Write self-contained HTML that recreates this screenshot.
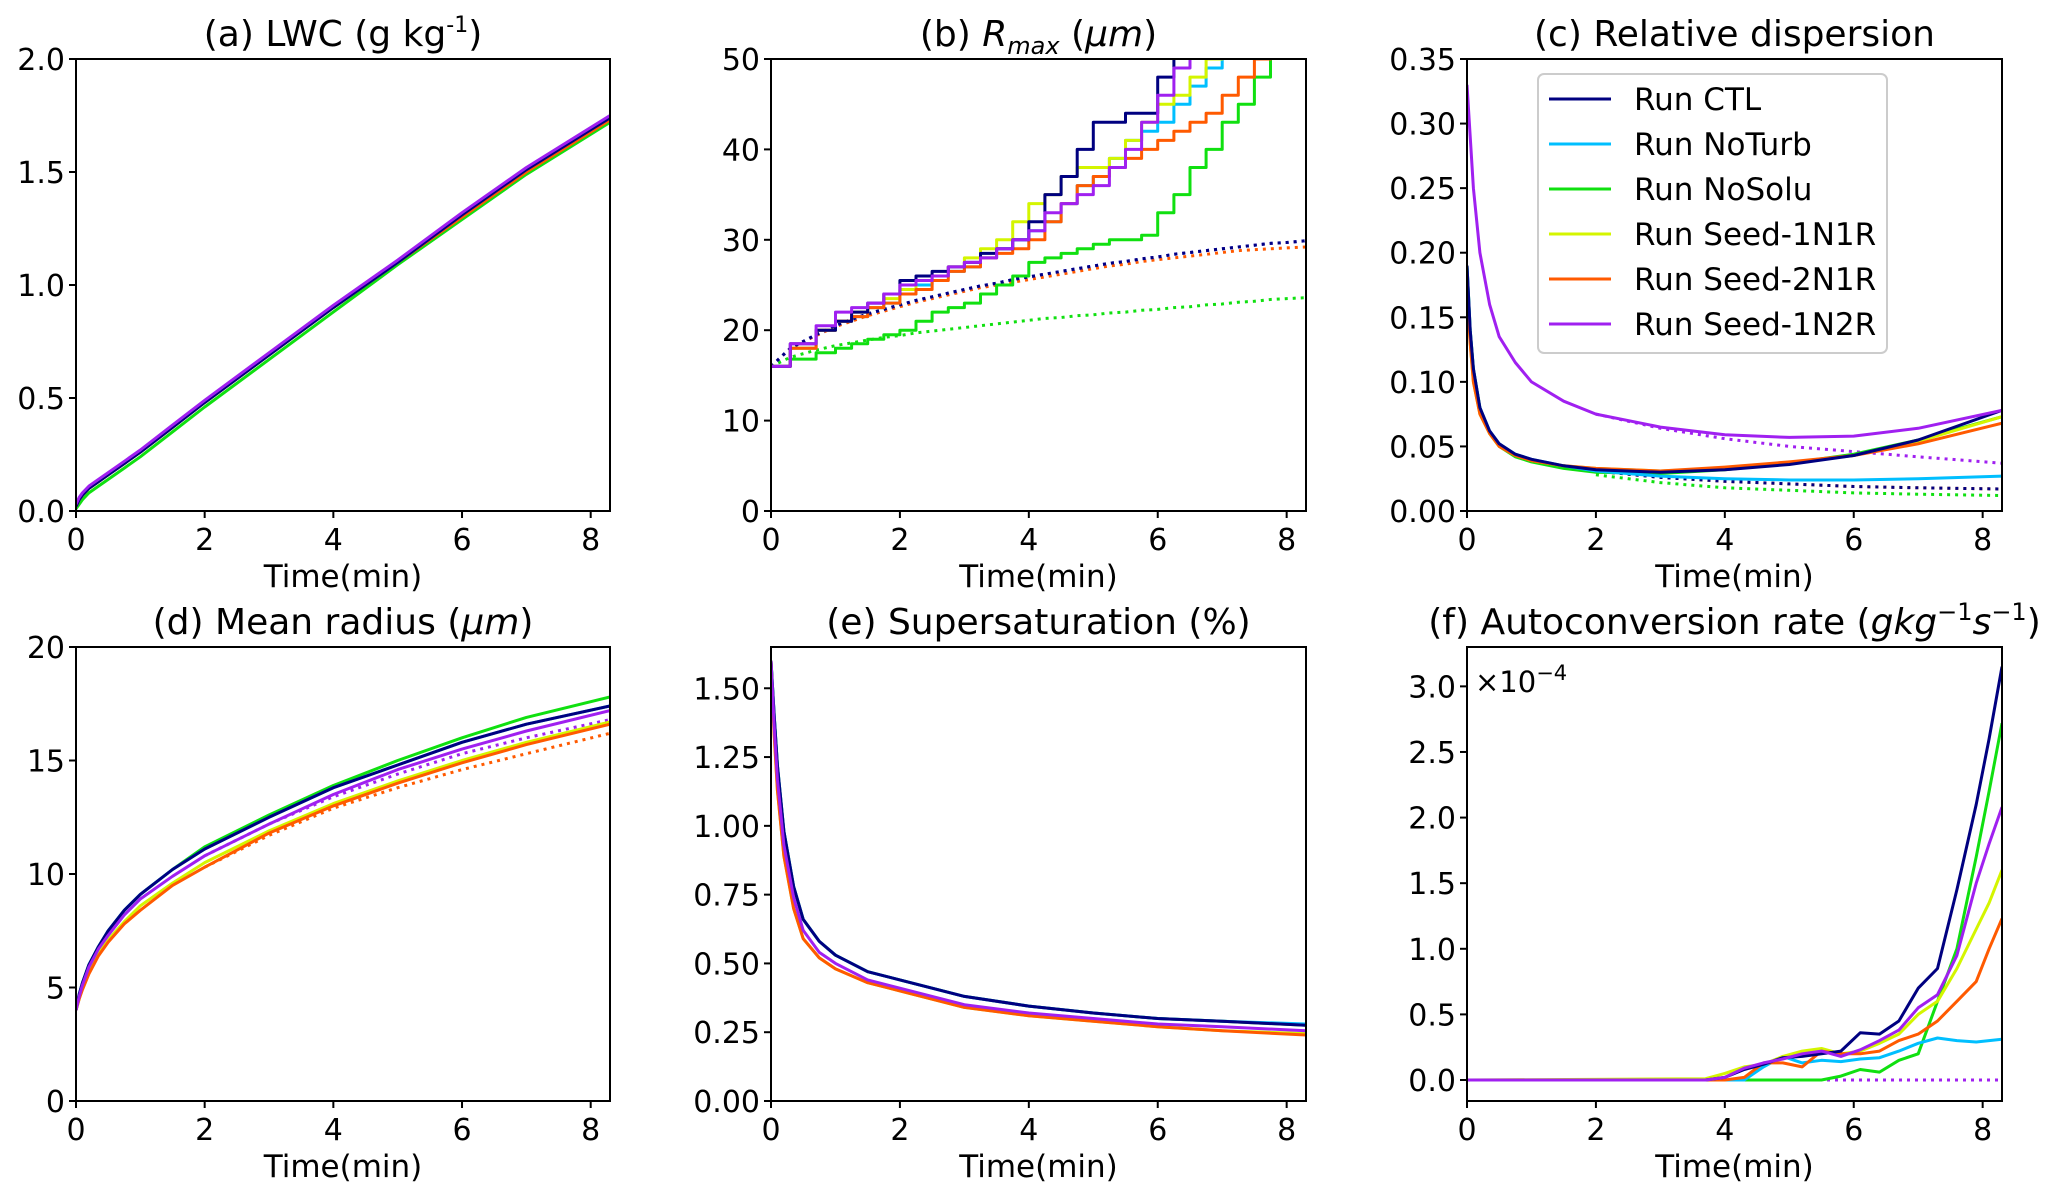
<!DOCTYPE html>
<html><head><meta charset="utf-8"><style>
body{margin:0;background:#fff}
svg{display:block;font-family:"DejaVu Sans","Liberation Sans",sans-serif}
</style></head><body>
<svg id="fig" width="2067" height="1197" viewBox="0 0 2067 1197" xmlns="http://www.w3.org/2000/svg"></svg>
<script>
// ---------- data ----------
const runNames = ["Run CTL","Run NoTurb","Run NoSolu","Run Seed-1N1R","Run Seed-2N1R","Run Seed-1N2R"];
const runColors = ["#000080","#00bfff","#10e010","#d4f500","#ff5a00","#a020f0"];

const TS = [0,0.05,0.1,0.2,0.35,0.5,0.75,1,1.5,2,3,4,5,6,7,8.3];
const TD = [2,3,4,5,6,7,8.3];
const TB = [0,0.3,0.7,1,1.25,1.5,1.75,2,2.25,2.5,2.75,3,3.25,3.5,3.75,4,4.25,4.5,4.75,5,5.25,5.5,5.75,6,6.25,6.5,6.75,7,7.25,7.5,7.75,8,8.3];
const TF = [0,3.7,4,4.3,4.6,4.9,5.2,5.5,5.8,6.1,6.4,6.7,7,7.3,7.6,7.9,8.1,8.3];

// (a) LWC
const lwcCTL    = [0.02,0.05,0.07,0.10,0.13,0.16,0.21,0.26,0.37,0.48,0.69,0.90,1.10,1.31,1.51,1.74];
const lwcNoTurb = [0.02,0.05,0.07,0.10,0.13,0.16,0.21,0.26,0.37,0.48,0.69,0.90,1.10,1.31,1.51,1.74];
const lwcNoSolu = [0.01,0.03,0.05,0.08,0.11,0.14,0.19,0.24,0.35,0.46,0.67,0.88,1.09,1.29,1.49,1.72];
const lwc1N1R   = [0.02,0.05,0.07,0.10,0.13,0.16,0.21,0.26,0.37,0.48,0.69,0.90,1.10,1.31,1.51,1.74];
const lwc2N1R   = [0.02,0.05,0.07,0.10,0.13,0.16,0.21,0.26,0.37,0.48,0.69,0.90,1.10,1.30,1.50,1.73];
const lwc1N2R   = [0.03,0.06,0.08,0.11,0.14,0.17,0.22,0.27,0.38,0.49,0.70,0.91,1.11,1.32,1.52,1.75];

// (b) Rmax
const rmaxCTL    = [16,18.5,20,21,22,23,24,25.5,26,26.5,27,27.5,28.5,29,30,32,35,37,40,43,43,44,44,48,52,57,60,60,60,60,60,60,60];
const rmaxNoTurb = [16,18,20,21,21.5,22.5,23,24,25,26,26.5,27,28,29,30,31,32,34,36,37,39,41,42,43,45,47,49,52,60,60,60,60,60];
const rmaxNoSolu = [16,16.8,17.5,18,18.5,19,19.5,20,21,22,22.5,23,24,25,26,27.5,28,28.5,29,29.5,30,30,30.5,33,35,38,40,43,45,48,52,55,60];
const rmax1N1R   = [16,18,20,21,22,22.5,23.5,24.5,25.5,26,27,28,29,30,32,34,35,37,38,38,39,41,43,45,46,48,50,53,60,60,60,60,60];
const rmax2N1R   = [16,18,20,21,21.5,22.5,23,24,24.5,25.5,26.5,27,28,28.5,29,30,32,34,36,37,38,39,40,41,42,43,44,46,48,50,52,55,60];
const rmax1N2R   = [16,18.5,20.5,22,22.5,23,24,25,25.5,26,27,27.5,28,29,30,31,33,34,35,36,38,40,43,46,49,51,53,55,60,60,60,60,60];
const rmaxDotCTL    = [16,18,19.5,20.5,21.2,21.8,22.3,22.8,23.3,23.7,24.1,24.5,24.9,25.2,25.6,25.9,26.2,26.5,26.8,27.1,27.4,27.6,27.9,28.1,28.4,28.6,28.8,29.0,29.2,29.4,29.6,29.7,29.9];
const rmaxDot2N1R   = [16,18,19.4,20.4,21.0,21.6,22.1,22.6,23.1,23.5,23.9,24.3,24.7,25.0,25.3,25.6,25.9,26.2,26.5,26.8,27.1,27.3,27.6,27.8,28.0,28.2,28.4,28.6,28.8,28.9,29.0,29.1,29.2];
const rmaxDotNoSolu = [16,17,17.8,18.3,18.6,18.9,19.2,19.4,19.7,19.9,20.1,20.3,20.5,20.7,20.9,21.1,21.3,21.4,21.6,21.7,21.9,22.0,22.2,22.3,22.5,22.6,22.8,22.9,23.1,23.2,23.4,23.5,23.6];

// (c) relative dispersion
const dispCTL    = [0.19,0.14,0.11,0.08,0.062,0.052,0.044,0.040,0.035,0.032,0.030,0.032,0.036,0.043,0.055,0.078];
const dispNoTurb = [0.19,0.14,0.11,0.08,0.062,0.052,0.044,0.040,0.035,0.031,0.027,0.025,0.024,0.024,0.025,0.027];
const dispNoSolu = [0.19,0.14,0.11,0.08,0.060,0.050,0.042,0.038,0.033,0.030,0.029,0.032,0.037,0.044,0.055,0.073];
const disp1N1R   = [0.18,0.13,0.10,0.075,0.060,0.050,0.043,0.039,0.035,0.033,0.031,0.033,0.037,0.043,0.054,0.073];
const disp2N1R   = [0.17,0.13,0.10,0.075,0.060,0.050,0.043,0.039,0.035,0.033,0.031,0.034,0.038,0.043,0.052,0.068];
const disp1N2R   = [0.33,0.29,0.25,0.20,0.16,0.135,0.115,0.10,0.085,0.075,0.065,0.059,0.057,0.058,0.064,0.078];
const dispDot1N2R   = [0.075,0.064,0.056,0.050,0.046,0.042,0.037];
const dispDotCTL    = [0.031,0.026,0.023,0.021,0.019,0.018,0.017];
const dispDotNoSolu = [0.028,0.022,0.018,0.016,0.014,0.013,0.012];

// (d) mean radius
const radCTL    = [4.0,4.7,5.2,6.0,6.8,7.5,8.4,9.1,10.2,11.1,12.5,13.8,14.8,15.8,16.6,17.4];
const radNoTurb = [4.0,4.7,5.2,6.0,6.8,7.5,8.4,9.1,10.2,11.1,12.5,13.8,14.8,15.8,16.6,17.4];
const radNoSolu = [4.0,4.7,5.2,6.0,6.8,7.5,8.4,9.1,10.2,11.2,12.6,13.9,15.0,16.0,16.9,17.8];
const rad1N1R   = [4.0,4.5,5.0,5.7,6.5,7.1,7.9,8.6,9.6,10.5,11.9,13.1,14.1,15.0,15.8,16.7];
const rad2N1R   = [4.0,4.5,4.9,5.6,6.4,7.0,7.8,8.4,9.5,10.3,11.8,13.0,14.0,14.9,15.7,16.6];
const rad1N2R   = [4.0,4.6,5.1,5.9,6.7,7.3,8.2,8.9,9.9,10.8,12.2,13.5,14.6,15.5,16.3,17.2];
const radDot1N2R = [10.8,12.2,13.4,14.4,15.3,16.0,16.8];
const radDot2N1R = [10.3,11.7,12.9,13.8,14.6,15.3,16.2];

// (e) supersaturation
const ssCTL    = [1.60,1.40,1.22,0.98,0.78,0.66,0.58,0.53,0.47,0.44,0.38,0.345,0.32,0.30,0.29,0.275];
const ssNoTurb = [1.60,1.40,1.22,0.98,0.78,0.66,0.58,0.53,0.47,0.44,0.38,0.345,0.32,0.30,0.29,0.28];
const ssNoSolu = [1.60,1.40,1.22,0.98,0.78,0.66,0.58,0.53,0.47,0.44,0.38,0.345,0.32,0.30,0.29,0.275];
const ss1N1R   = [1.60,1.33,1.13,0.89,0.70,0.59,0.52,0.48,0.43,0.40,0.34,0.31,0.29,0.27,0.255,0.245];
const ss2N1R   = [1.60,1.33,1.13,0.89,0.70,0.59,0.52,0.48,0.43,0.40,0.34,0.31,0.29,0.27,0.255,0.24];
const ss1N2R   = [1.60,1.36,1.17,0.93,0.74,0.62,0.54,0.50,0.44,0.41,0.35,0.32,0.30,0.28,0.27,0.255];

// (f) autoconversion (x1e-4)
const acCTL    = [0,0,0.02,0.08,0.12,0.17,0.18,0.2,0.22,0.36,0.35,0.45,0.7,0.85,1.45,2.1,2.6,3.15];
const acNoTurb = [0,0,0,0,0.1,0.18,0.13,0.15,0.14,0.16,0.17,0.22,0.28,0.32,0.30,0.29,0.30,0.31];
const acNoSolu = [0,0,0,0,0,0,0,0,0.03,0.08,0.06,0.15,0.2,0.6,1.0,1.7,2.2,2.72];
const ac1N1R   = [0,0.01,0.05,0.1,0.12,0.18,0.22,0.24,0.2,0.22,0.28,0.35,0.5,0.6,0.85,1.15,1.35,1.6];
const ac2N1R   = [0,0,0,0.02,0.13,0.13,0.1,0.22,0.2,0.2,0.22,0.3,0.35,0.45,0.6,0.75,1.0,1.23];
const ac1N2R   = [0,0,0.02,0.09,0.13,0.16,0.2,0.22,0.18,0.23,0.3,0.38,0.55,0.65,0.95,1.5,1.8,2.08];
const acDot    = [0,0,0,0,0,0,0,0,0,0,0,0,0,0,0,0,0,0];

const xTicks = [0,2,4,6,8];
const ticksA = [0,0.5,1.0,1.5,2.0];
const ticksB = [0,10,20,30,40,50];
const ticksC = [0,0.05,0.10,0.15,0.20,0.25,0.30,0.35];
const ticksD = [0,5,10,15,20];
const ticksE = [0,0.25,0.5,0.75,1.0,1.25,1.5];
const ticksF = [0,0.5,1.0,1.5,2.0,2.5,3.0];

// ---------- drawing ----------
const NS = "http://www.w3.org/2000/svg";
const svg = document.getElementById("fig");
function mk(tag, attrs, parent){
  const e = document.createElementNS(NS, tag);
  for (const k in attrs) e.setAttribute(k, attrs[k]);
  (parent||svg).appendChild(e);
  return e;
}
let clipN = 0;
function panel(o){
  const g = mk("g", {});
  
  
  const X = v => o.x0 + (v - 0) / 8.3 * (o.x1 - o.x0);
  const Y = v => o.y1 - (v - o.ymin) / (o.ymax - o.ymin) * (o.y1 - o.y0);
  const id = "clip" + (clipN++);
  const cp = mk("clipPath", {id: id}, g);
  mk("rect", {x:o.x0, y:o.y0, width:o.x1-o.x0, height:o.y1-o.y0}, cp);
  const lines = mk("g", {"clip-path":"url(#"+id+")"}, g);
  o.series.forEach(s => {
    let d = "";
    s.t.forEach((t,i) => {
      const px = X(t).toFixed(1), py = Y(s.v[i]).toFixed(1);
      if (i === 0) d += "M" + px + " " + py;
      else if (s.step) d += "H" + px + "V" + py;
      else d += "L" + px + " " + py;
    });
    const p = mk("path", {d:d, fill:"none", stroke:s.c, "stroke-width":3, "stroke-linejoin":"round"}, lines);
    if (s.dot) p.setAttribute("stroke-dasharray", "3 5");
    
    
  });
  const frame = mk("rect", {x:o.x0, y:o.y0, width:o.x1-o.x0, height:o.y1-o.y0, fill:"none", stroke:"#000", "stroke-width":2}, g);
  
  
  xTicks.forEach(t => {
    mk("line", {x1:X(t), x2:X(t), y1:o.y1, y2:o.y1+7, stroke:"#000", "stroke-width":2}, g);
    const tx = mk("text", {x:X(t), y:o.y1+39, "font-size":30, "text-anchor":"middle"}, g);
    tx.textContent = t;
    
    
  });
  o.yticks.forEach(t => {
    mk("line", {x1:o.x0-7, x2:o.x0, y1:Y(t), y2:Y(t), stroke:"#000", "stroke-width":2}, g);
    const ty = mk("text", {x:o.x0-11, y:Y(t)+11, "font-size":30, "text-anchor":"end"}, g);
    ty.textContent = t.toFixed(o.dec);
    
    
  });
  const xl = mk("text", {x:(o.x0+o.x1)/2, y:o.y1+76, "font-size":31, "text-anchor":"middle"}, g);
  xl.textContent = "Time(min)";
  
  
  const ti = mk("text", {x:(o.x0+o.x1)/2, y:o.y0-13, "font-size":36, "text-anchor":"middle"}, g);
  ti.innerHTML = o.title;
  
  
  return {X, Y, g};
}
function six(t, arrs){
  const out = [];
  const order = [2,1,3,4,0,5];
  order.forEach(i => out.push({t:t, v:arrs[i], c:runColors[i], n:"line-"+runNames[i].toLowerCase().replace(/ /g,"-")}));
  return out;
}
const R1 = [59,511], R2 = [647,1101];
const C1 = [76,610], C2 = [771,1306], C3 = [1467,2002];

panel({name:"panel-a-lwc", x0:C1[0], x1:C1[1], y0:R1[0], y1:R1[1], ymin:0, ymax:2, yticks:ticksA, dec:1,
  title:'(a) LWC (g kg<tspan font-size="22" dy="-14">-1</tspan><tspan dy="14">)</tspan>',
  series: six(TS,[lwcCTL,lwcNoTurb,lwcNoSolu,lwc1N1R,lwc2N1R,lwc1N2R])});

const sb = six(TB,[rmaxCTL,rmaxNoTurb,rmaxNoSolu,rmax1N1R,rmax2N1R,rmax1N2R]);
sb.forEach(s => s.step = true);
panel({name:"panel-b-rmax", x0:C2[0], x1:C2[1], y0:R1[0], y1:R1[1], ymin:0, ymax:50, yticks:ticksB, dec:0,
  title:'(b) <tspan font-style="italic">R</tspan><tspan font-size="24" dy="8" font-style="italic">max</tspan><tspan dy="-8"> (</tspan><tspan font-style="italic">μm</tspan>)',
  series: [
    {t:TB, v:rmaxDotNoSolu, c:runColors[2], dot:true, n:"dotted-nosolu"},
    {t:TB, v:rmaxDot2N1R, c:runColors[4], dot:true, n:"dotted-seed-2n1r"},
    {t:TB, v:rmaxDotCTL, c:runColors[1], dot:true, n:"dotted-noturb"},
    {t:TB, v:rmaxDotCTL, c:runColors[5], dot:true, n:"dotted-seed-1n2r"},
    {t:TB, v:rmaxDotCTL, c:runColors[0], dot:true, n:"dotted-ctl"}
  ].concat(sb)});

panel({name:"panel-c-dispersion", x0:C3[0], x1:C3[1], y0:R1[0], y1:R1[1], ymin:0, ymax:0.35, yticks:ticksC, dec:2,
  title:'(c) Relative dispersion',
  series: [
    {t:TD, v:dispDotNoSolu, c:runColors[2], dot:true, n:"dotted-nosolu"},
    {t:TD, v:dispDotCTL, c:runColors[4], dot:true, n:"dotted-seed-2n1r"},
    {t:TD, v:dispDotCTL, c:runColors[0], dot:true, n:"dotted-ctl"},
    {t:TD, v:dispDot1N2R, c:runColors[5], dot:true, n:"dotted-seed-1n2r"}
  ].concat(six(TS,[dispCTL,dispNoTurb,dispNoSolu,disp1N1R,disp2N1R,disp1N2R]))});

panel({name:"panel-d-mean-radius", x0:C1[0], x1:C1[1], y0:R2[0], y1:R2[1], ymin:0, ymax:20, yticks:ticksD, dec:0,
  title:'(d) Mean radius (<tspan font-style="italic">μm</tspan>)',
  series: [
    {t:TD, v:radDot2N1R, c:runColors[4], dot:true, n:"dotted-seed-2n1r"},
    {t:TD, v:radDot1N2R, c:runColors[5], dot:true, n:"dotted-seed-1n2r"}
  ].concat(six(TS,[radCTL,radNoTurb,radNoSolu,rad1N1R,rad2N1R,rad1N2R]))});

panel({name:"panel-e-supersaturation", x0:C2[0], x1:C2[1], y0:R2[0], y1:R2[1], ymin:0, ymax:1.65, yticks:ticksE, dec:2,
  title:'(e) Supersaturation (%)',
  series: six(TS,[ssCTL,ssNoTurb,ssNoSolu,ss1N1R,ss2N1R,ss1N2R])});

const pf = panel({name:"panel-f-autoconversion", x0:C3[0], x1:C3[1], y0:R2[0], y1:R2[1], ymin:-0.16, ymax:3.30, yticks:ticksF, dec:1,
  title:'(f) Autoconversion rate (<tspan font-style="italic">gkg</tspan><tspan font-size="24" dy="-14">−1</tspan><tspan font-style="italic" dy="14">s</tspan><tspan font-size="24" dy="-14">−1</tspan><tspan dy="14">)</tspan>',
  series: [
    {t:TF, v:acDot, c:runColors[4], dot:true, n:"dotted-seed-2n1r"},
    {t:TF, v:acDot, c:runColors[2], dot:true, n:"dotted-nosolu"},
    {t:TF, v:acDot, c:runColors[5], dot:true, n:"dotted-seed-1n2r"}
  ].concat(six(TF,[acCTL,acNoTurb,acNoSolu,ac1N1R,ac2N1R,ac1N2R]))});
const off = mk("text", {x:1475, y:692, "font-size":29}, pf.g);
off.innerHTML = '×10<tspan font-size="21" dy="-12">−4</tspan>';



// legend
const lg = mk("g", {});


mk("rect", {x:1538, y:74, width:349, height:279, rx:6, fill:"#fff", "fill-opacity":0.85, stroke:"#ccc", "stroke-width":2}, lg);
runNames.forEach((nm,i) => {
  const yy = 99 + i*45;
  const e = mk("g", {}, lg);
  
  
  mk("line", {x1:1549, x2:1611, y1:yy, y2:yy, stroke:runColors[i], "stroke-width":3}, e);
  const t = mk("text", {x:1634, y:yy+11, "font-size":31}, e);
  t.textContent = nm;
});
</script>
</body></html>
